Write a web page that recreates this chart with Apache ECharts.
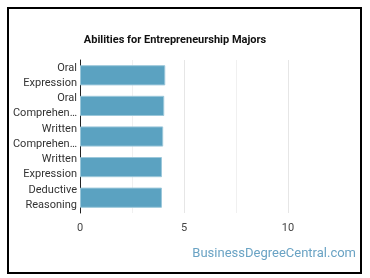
<!DOCTYPE html>
<html>
<head>
<meta charset="utf-8">
<script src="https://cdn.jsdelivr.net/npm/echarts@6/dist/echarts.min.js"></script>
<style>
  html, body { margin: 0; padding: 0; background: #fff; }
  #abilities { width: 370px; height: 278px; }
</style>
</head>
<body>
<div id="abilities"></div>
<script>
var categories = ['Oral Expression', 'Oral Comprehension', 'Written Comprehension', 'Written Expression', 'Deductive Reasoning'];
var values = [4.1, 4.05, 4.0, 3.94, 3.94];
var tickLabels = ['0', '5', '10'];

var chartDom = document.getElementById('abilities');
var myChart = echarts.init(chartDom);

// wrap words on lines, cut long words like the original site does
function wrapLabel(name) {
  return name.split(' ').map(function (w) {
    return w.length > 10 ? w.slice(0, 9) + '…' : w;
  }).join('\n');
}

var option = {
  animation: false,
  title: {
    text: 'Abilities for Entrepreneurship Majors',
    left: 170,
    textAlign: 'center',
    top: 30,
    textStyle: { fontFamily: 'Roboto', fontSize: 11, fontWeight: 'bold', color: '#111' }
  },
  graphic: [
    {
      type: 'rect',
      shape: { x: 8, y: 8, width: 353, height: 265 },
      style: { fill: 'none', stroke: '#000', lineWidth: 2 }
    },
    {
      type: 'text',
      right: 14,
      top: 247,
      style: { text: 'BusinessDegreeCentral.com', fill: '#6aa3c4', font: '13px Roboto' }
    }
  ],
  grid: { left: 80, right: 30, top: 60, height: 153, containLabel: false },
  xAxis: {
    type: 'value',
    min: 0,
    max: 12.5,
    interval: 2.5,
    axisLine: { show: false },
    axisTick: { show: false },
    axisLabel: {
      margin: 10,
      fontFamily: 'Roboto',
      fontSize: 11,
      color: '#444',
      formatter: function (v) {
        return tickLabels.indexOf(String(v)) >= 0 ? String(v) : '';
      }
    },
    splitLine: { showMaxLine: false, lineStyle: { color: ['#e6e6e6', '#f0f0f0'] } }
  },
  yAxis: {
    type: 'category',
    inverse: true,
    data: categories,
    axisLine: { show: true, lineStyle: { color: '#222', width: 1 } },
    axisTick: { show: false },
    axisLabel: {
      margin: 3,
      fontFamily: 'Roboto',
      fontSize: 11,
      lineHeight: 15,
      color: '#333',
      align: 'right',
      formatter: wrapLabel
    }
  },
  series: [
    {
      type: 'bar',
      data: values,
      barCategoryGap: '34%',
      itemStyle: { color: '#5ba2c1', borderColor: '#9cc8db', borderWidth: 1 }
    }
  ]
};
option && myChart.setOption(option);
</script>
</body>
</html>
